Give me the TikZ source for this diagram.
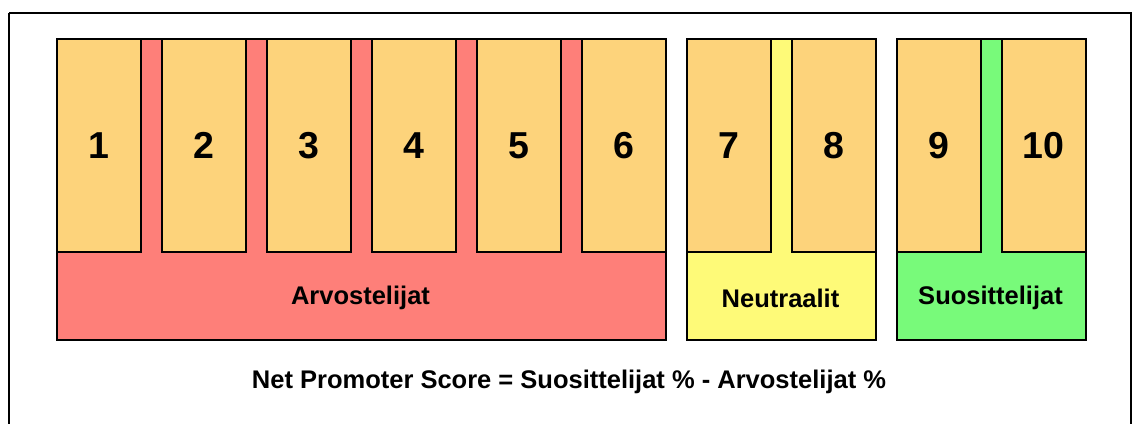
\documentclass[tikz,border=0pt]{standalone}
\usepackage{fontspec}
\setmainfont{Liberation Sans}
\definecolor{boxorange}{HTML}{FDD37B}
\definecolor{detred}{HTML}{FE7F79}
\definecolor{neuyellow}{HTML}{FEFA78}
\definecolor{progreen}{HTML}{78FA7A}
\begin{document}
\begin{tikzpicture}[x=1bp,y=-1bp,
  frame/.style={draw=black, line width=2.2bp},
  group/.style={draw=black, line width=1.6bp, anchor=north west, minimum height=301bp, inner sep=0pt},
  numbox/.style={draw=black, fill=boxorange, line width=1.6bp, anchor=north west, minimum width=84bp, minimum height=213bp, inner sep=0pt, font=\bfseries\fontsize{37.5bp}{40bp}\selectfont},
  grouplabel/.style={font=\bfseries\fontsize{25.5bp}{28bp}\selectfont},
  formula/.style={font=\bfseries\fontsize{25.5bp}{28bp}\selectfont}]
\useasboundingbox (0,0) rectangle (1132,423);
\draw[frame] (9,13) -- (1131,13) -- (1131,430) (9,430) -- (9,13);
% groups
\node[group, fill=detred, minimum width=609bp] (gA) at (56,38) {};
\node[group, fill=neuyellow, minimum width=189bp] (gN) at (686,38) {};
\node[group, fill=progreen, minimum width=189bp] (gP) at (896,38) {};
% number boxes
\node[numbox] (b1) at (56,38) {1};
\node[numbox] (b2) at (161,38) {2};
\node[numbox] (b3) at (266,38) {3};
\node[numbox] (b4) at (371,38) {4};
\node[numbox] (b5) at (476,38) {5};
\node[numbox, minimum width=84bp] (b6) at (581,38) {6};
\node[numbox] (b7) at (686,38) {7};
\node[numbox] (b8) at (791,38) {8};
\node[numbox] (b9) at (896,38) {9};
\node[numbox] (b10) at (1001,38) {10};
% labels
\node[grouplabel] (lA) at (360.5,298) {Arvostelijat};
\node[grouplabel] (lN) at (780.5,298) {Neutraalit};
\node[grouplabel] (lP) at (990.5,298) {Suosittelijat};
\node[formula] (f) at (569,382) {Net Promoter Score = Suosittelijat \% - Arvostelijat \%};
\end{tikzpicture}
\end{document}
